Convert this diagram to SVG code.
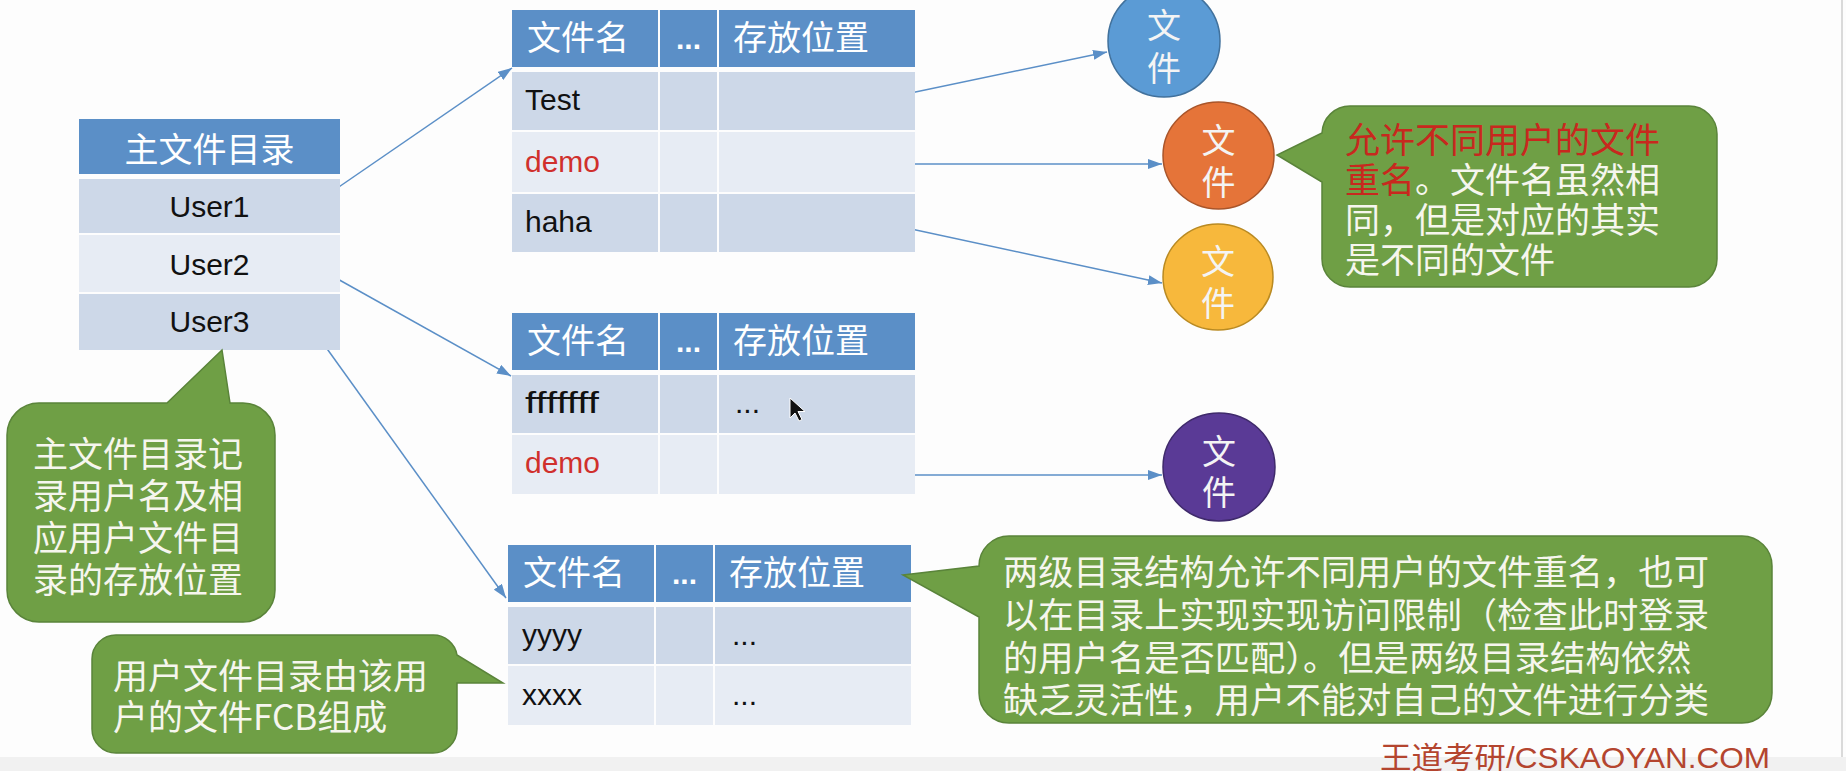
<svg xmlns="http://www.w3.org/2000/svg" width="1846" height="771" viewBox="0 0 1846 771">
<defs>
<style>
.hdr{fill:#5b8fc7}
.r1{fill:#cdd8e8}
.r2{fill:#e7ecf4}
.cjk{font-family:"Noto Sans CJK SC",sans-serif}
.lat{font-family:"Liberation Sans","Noto Sans CJK SC",sans-serif}
.ht{fill:#ffffff;font-size:34px}
.rt{fill:#111111;font-size:30px}
.red{fill:#d0302c}
.conn{stroke:#5b8fc7;stroke-width:1.5;fill:none;marker-end:url(#ah)}
.callout{fill:#6f9f45;stroke:#5a843a;stroke-width:1.5}
.ct{fill:#f6f6ee;font-size:35px}
.ctr{fill:#c8281e}
.ft{fill:#f4f4f4;font-size:34px;text-anchor:middle}
.dots{fill:#ffffff;font-size:30px;font-weight:bold;text-anchor:middle}
</style>
<marker id="ah" markerUnits="userSpaceOnUse" markerWidth="14" markerHeight="10" viewBox="0 0 14 10" refX="14" refY="5" orient="auto">
<path d="M0,0 L14,5 L0,10 Z" fill="#5b8fc7"/>
</marker>
</defs>
<rect x="0" y="0" width="1846" height="771" fill="#fdfdfd"/>
<rect x="0" y="757" width="1846" height="14" fill="#f1f1f1"/>
<line x1="1842" y1="0" x2="1842" y2="757" stroke="#dadada" stroke-width="2"/>

<g id="connectors">
<path class="conn" d="M317,202 L512,68"/>
<path class="conn" d="M318,268 L511,376"/>
<path class="conn" d="M315,332 L506,598"/>
<path class="conn" d="M882,99 L1107,52"/>
<path class="conn" d="M882,164 L1162,164"/>
<path class="conn" d="M888,224 L1162,283"/>
<path class="conn" d="M882,475 L1162,475"/>
</g>

<g id="main-dir">
<rect class="hdr" x="79" y="119" width="261" height="55"/>
<rect class="r1" x="79" y="179" width="261" height="54"/>
<rect class="r2" x="79" y="235" width="261" height="57"/>
<rect class="r1" x="79" y="294" width="261" height="56"/>
<text class="cjk ht" x="209.5" y="162" text-anchor="middle">主文件目录</text>
<text class="lat rt" x="209.5" y="217" text-anchor="middle">User1</text>
<text class="lat rt" x="209.5" y="275" text-anchor="middle">User2</text>
<text class="lat rt" x="209.5" y="332" text-anchor="middle">User3</text>
</g>

<g id="user1-dir">
<rect class="hdr" x="512" y="10" width="146" height="57"/>
<rect class="hdr" x="660" y="10" width="57" height="57"/>
<rect class="hdr" x="719" y="10" width="196" height="57"/>
<rect class="r1" x="512" y="72" width="146" height="58"/>
<rect class="r1" x="660" y="72" width="57" height="58"/>
<rect class="r1" x="719" y="72" width="196" height="58"/>
<rect class="r2" x="512" y="132" width="146" height="60"/>
<rect class="r2" x="660" y="132" width="57" height="60"/>
<rect class="r2" x="719" y="132" width="196" height="60"/>
<rect class="r1" x="512" y="194" width="146" height="58"/>
<rect class="r1" x="660" y="194" width="57" height="58"/>
<rect class="r1" x="719" y="194" width="196" height="58"/>
<text class="cjk ht" x="527" y="50">文件名</text>
<text class="lat dots" x="688.5" y="49">...</text>
<text class="cjk ht" x="733" y="50">存放位置</text>
<text class="lat rt" x="525" y="110">Test</text>
<text class="lat rt red" x="525" y="172">demo</text>
<text class="lat rt" x="525" y="232">haha</text>
</g>

<g id="user2-dir">
<rect class="hdr" x="512" y="313" width="146" height="57"/>
<rect class="hdr" x="660" y="313" width="57" height="57"/>
<rect class="hdr" x="719" y="313" width="196" height="57"/>
<rect class="r1" x="512" y="375" width="146" height="58"/>
<rect class="r1" x="660" y="375" width="57" height="58"/>
<rect class="r1" x="719" y="375" width="196" height="58"/>
<rect class="r2" x="512" y="435" width="146" height="59"/>
<rect class="r2" x="660" y="435" width="57" height="59"/>
<rect class="r2" x="719" y="435" width="196" height="59"/>
<text class="cjk ht" x="527" y="353">文件名</text>
<text class="lat dots" x="688.5" y="352">...</text>
<text class="cjk ht" x="733" y="353">存放位置</text>
<text class="lat rt" x="525" y="413" textLength="74" lengthAdjust="spacingAndGlyphs">fffffff</text>
<text class="lat rt" x="735" y="413">...</text>
<text class="lat rt red" x="525" y="473">demo</text>
<path d="M790,398 L790,418 L795,413 L799,421 L802,419.5 L798,411.5 L805,411.5 Z" fill="#111" stroke="#fff" stroke-width="1"/>
</g>

<g id="user3-dir">
<rect class="hdr" x="508" y="545" width="146" height="57"/>
<rect class="hdr" x="656" y="545" width="57" height="57"/>
<rect class="hdr" x="715" y="545" width="196" height="57"/>
<rect class="r1" x="508" y="607" width="146" height="57"/>
<rect class="r1" x="656" y="607" width="57" height="57"/>
<rect class="r1" x="715" y="607" width="196" height="57"/>
<rect class="r2" x="508" y="666" width="146" height="59"/>
<rect class="r2" x="656" y="666" width="57" height="59"/>
<rect class="r2" x="715" y="666" width="196" height="59"/>
<text class="cjk ht" x="523" y="585">文件名</text>
<text class="lat dots" x="684.5" y="584">...</text>
<text class="cjk ht" x="729" y="585">存放位置</text>
<text class="lat rt" x="522" y="645">yyyy</text>
<text class="lat rt" x="732" y="645">...</text>
<text class="lat rt" x="522" y="705">xxxx</text>
<text class="lat rt" x="732" y="705">...</text>
</g>

<g id="file-blue">
<ellipse cx="1164" cy="41" rx="56" ry="56" fill="#5b9bd5" stroke="#41719c" stroke-width="1.5"/>
<text class="cjk ft" x="1164" y="38">文<tspan x="1164" dy="43">件</tspan></text>
</g>
<g id="file-orange">
<ellipse cx="1218.5" cy="155.5" rx="55.5" ry="53.5" fill="#e57439" stroke="#a9552a" stroke-width="1.5"/>
<text class="cjk ft" x="1218.5" y="152.5">文<tspan x="1218.5" dy="42">件</tspan></text>
</g>
<g id="file-yellow">
<ellipse cx="1218" cy="277" rx="55" ry="53" fill="#f7b83c" stroke="#b98a22" stroke-width="1.5"/>
<text class="cjk ft" x="1218" y="274">文<tspan x="1218" dy="42">件</tspan></text>
</g>
<g id="file-purple">
<ellipse cx="1219" cy="467" rx="56" ry="54" fill="#5a3a96" stroke="#3f2a6b" stroke-width="1.5"/>
<text class="cjk ft" x="1219" y="464">文<tspan x="1219" dy="41">件</tspan></text>
</g>

<g id="note-rename">
<path class="callout" d="M1350,106 H1689 A28,28 0 0 1 1717,134 V259 A28,28 0 0 1 1689,287 H1350 A28,28 0 0 1 1322,259 V182 L1277,155 L1322,133 A28,28 0 0 1 1350,106 Z"/>
<text class="cjk ct" x="1345" y="153"><tspan class="ctr">允许不同用户的文件</tspan><tspan x="1345" dy="40" class="ctr">重名</tspan><tspan>。文件名虽然相</tspan><tspan x="1345" dy="40">同，但是对应的其实</tspan><tspan x="1345" dy="40">是不同的文件</tspan></text>
</g>

<g id="note-twolevel">
<path class="callout" d="M1009,536 H1742 A30,30 0 0 1 1772,566 V693 A30,30 0 0 1 1742,723 H1009 A30,30 0 0 1 979,693 V617 L903,575 L979,566 A30,30 0 0 1 1009,536 Z"/>
<text class="cjk ct" x="1003" y="585" style="font-size:35.3px">两级目录结构允许不同用户的文件重名，也可<tspan x="1003" dy="43">以在目录上实现实现访问限制（检查此时登录</tspan><tspan x="1003" dy="43">的用户名是否匹配）。但是两级目录结构依然</tspan><tspan x="1003" dy="42">缺乏灵活性，用户不能对自己的文件进行分类</tspan></text>
</g>

<g id="note-mfd">
<path class="callout" d="M39,403 H167 L222,350 L230,403 H243 A32,32 0 0 1 275,435 V590 A32,32 0 0 1 243,622 H39 A32,32 0 0 1 7,590 V435 A32,32 0 0 1 39,403 Z"/>
<text class="cjk ct" x="33" y="467">主文件目录记<tspan x="33" dy="42">录用户名及相</tspan><tspan x="33" dy="42">应用户文件目</tspan><tspan x="33" dy="42">录的存放位置</tspan></text>
</g>

<g id="note-ufd">
<path class="callout" d="M116,635 H433 A24,24 0 0 1 457,655 L503,683 L457,683 V729 A24,24 0 0 1 433,753 H116 A24,24 0 0 1 92,729 V659 A24,24 0 0 1 116,635 Z"/>
<text class="cjk ct" x="113" y="689">用户文件目录由该用<tspan x="113" dy="41">户的文件FCB组成</tspan></text>
</g>

<text class="lat" x="1380" y="768" font-size="30" fill="#b4452f" textLength="390" lengthAdjust="spacingAndGlyphs">王道考研/CSKAOYAN.COM</text>
</svg>
